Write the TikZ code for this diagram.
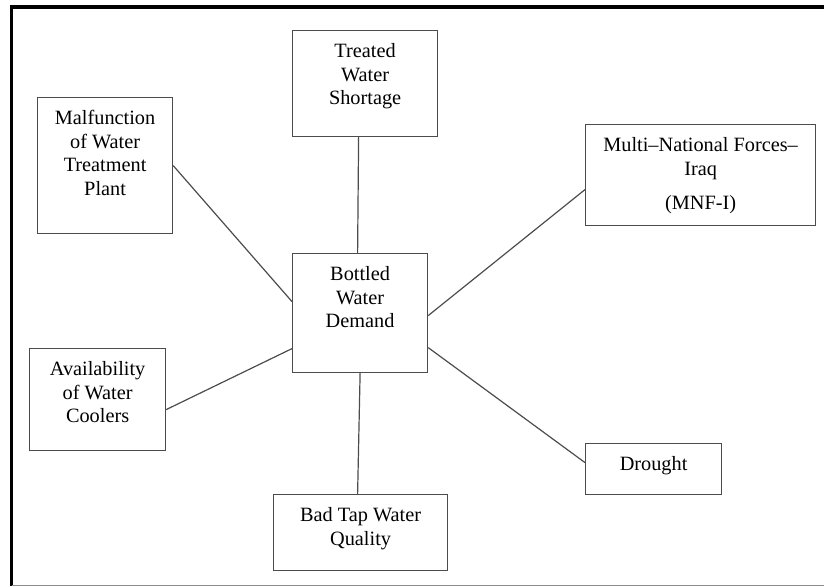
\documentclass[tikz,border=0pt]{standalone}
\usepackage{fontspec}
\setmainfont{Liberation Serif}
\newcommand{\boxtext}[3]{\parbox[t][#2][t]{#1}{\centering #3}}
\begin{document}
\begin{tikzpicture}[x=1pt,y=-1pt,
    factor/.style={draw=black!70, line width=1.2pt, anchor=north west,
      inner xsep=0pt, inner ysep=13pt, font=\fontsize{20.3}{23.5}\selectfont},
    link/.style={draw=black!70, line width=1.2pt}]
    \useasboundingbox (0,0) rectangle (824,586);
    % frame
    \draw[line width=3.5pt] (824,7) -- (11.5,7) -- (11.5,586);
    \draw[black!45, line width=1pt] (11.5,585) -- (824,585);
    % boxes
    \node[factor] (treated) at (292,30) {\boxtext{145pt}{80pt}{Treated\\Water\\Shortage}};
    \node[factor] (malf) at (37,97) {\boxtext{135pt}{110pt}{Malfunction\\of Water\\Treatment\\Plant}};
    \node[factor] (demand) at (292,253) {\boxtext{135pt}{93pt}{Bottled\\Water\\Demand}};
    \node[factor] (mnf) at (585,124) {\boxtext{230pt}{75pt}{Multi–National Forces–\\Iraq\\[11pt](MNF-I)}};
    \node[factor] (avail) at (29,348) {\boxtext{136pt}{76pt}{Availability\\of Water\\Coolers}};
    \node[factor] (drought) at (585,443) {\boxtext{136pt}{25pt}{Drought}};
    \node[factor] (badtap) at (273,494) {\boxtext{174pt}{50pt}{Bad Tap Water\\Quality}};
    % links
    \draw[link] ([xshift=-6.5pt]treated.south) -- ([xshift=-2.5pt]demand.north);
    \draw[link] (malf.east) -- ([yshift=11.5pt]demand.west);
    \draw[link] ([yshift=-10pt]avail.east) -- ([yshift=-35.5pt]demand.west);
    \draw[link] ([yshift=-14.5pt]mnf.west) -- ([yshift=-2.5pt]demand.east);
    \draw[link] ([yshift=6.5pt]drought.west) -- ([yshift=-34.5pt]demand.east);
    \draw[link] (demand.south) -- ([xshift=-3pt]badtap.north);
\end{tikzpicture}
\end{document}
